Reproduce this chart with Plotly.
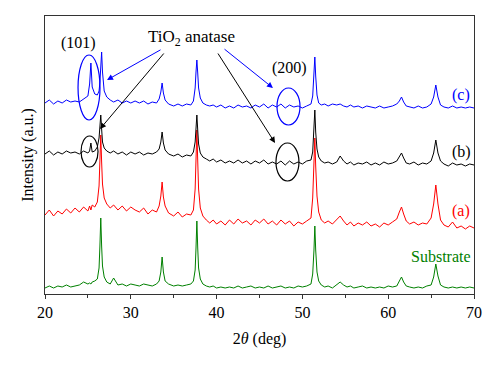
import plotly.graph_objects as go

two_theta = [
    20.0, 20.5, 21.0, 21.5, 22.0, 22.5, 23.0, 23.5, 24.0, 24.5,
    25.0, 25.2, 25.35, 25.5, 25.8, 26.1, 26.3, 26.4, 26.5, 26.6,
    26.7, 26.9, 27.2, 27.6, 28.0, 28.5, 29.0, 29.5, 30.0, 30.5,
    31.0, 31.5, 32.0, 32.5, 33.0, 33.3, 33.5, 33.65, 33.8, 34.0,
    34.4, 35.0, 35.5, 36.0, 36.5, 37.0, 37.3, 37.5, 37.6, 37.7,
    37.8, 37.9, 38.1, 38.4, 38.8, 39.2, 39.6, 40.0, 40.5, 41.0,
    41.5, 42.0, 42.5, 43.0, 43.5, 44.0, 44.5, 45.0, 45.5, 46.0,
    46.5, 47.0, 47.5, 48.0, 48.5, 49.0, 49.5, 50.0, 50.5, 51.0,
    51.2, 51.35, 51.45, 51.55, 51.7, 51.9, 52.2, 52.6, 53.0, 53.5,
    54.0, 54.4, 54.8, 55.2, 55.6, 56.0, 56.5, 57.0, 57.5, 58.0,
    58.5, 59.0, 59.5, 60.0, 60.5, 61.0, 61.3, 61.55, 61.8, 62.1,
    62.5, 63.0, 63.5, 64.0, 64.5, 65.0, 65.3, 65.55, 65.8, 66.1,
    66.5, 67.0, 67.5, 68.0, 68.5, 69.0, 69.5, 70.0,
]

substrate = [
    6, 8, 6, 8, 7, 9, 7, 8, 9, 12,
    10, 11, 10, 12, 13, 15, 26, 48, 76, 48,
    28, 17, 12, 10, 16, 9, 10, 8, 10, 9,
    8, 10, 9, 8, 10, 13, 22, 37, 22, 13,
    10, 8, 9, 8, 9, 10, 13, 24, 46, 73,
    46, 26, 15, 10, 8, 7, 8, 6, 7, 6,
    7, 6, 8, 6, 7, 8, 6, 7, 6, 8,
    6, 7, 8, 6, 7, 6, 8, 7, 8, 10,
    20, 44, 68, 44, 22, 13, 9, 7, 8, 6,
    9, 12, 9, 7, 8, 6, 7, 8, 6, 7,
    6, 7, 6, 8, 7, 8, 13, 17, 12, 8,
    7, 6, 7, 6, 8, 9, 17, 30, 18, 9,
    7, 6, 7, 6, 7, 6, 7, 6,
]

sample_a = [
    79, 84, 78, 83, 80, 85, 81, 86, 82, 87,
    83, 88, 84, 89, 87, 92, 108, 135, 159, 132,
    110, 96, 90, 86, 89, 84, 88, 83, 87, 84,
    82, 86, 80, 84, 82, 88, 98, 112, 97, 88,
    81, 78, 82, 77, 80, 79, 84, 105, 135, 164,
    133, 105, 86, 78, 74, 71, 74, 70, 73, 69,
    74, 70, 75, 71, 73, 69, 74, 71, 75, 70,
    73, 69, 74, 70, 73, 68, 72, 70, 73, 76,
    96, 130, 156, 128, 98, 82, 74, 71, 73, 70,
    74, 78, 73, 69, 72, 68, 71, 69, 72, 68,
    70, 67, 71, 69, 72, 75, 82, 87, 80, 73,
    70, 72, 69, 71, 70, 76, 90, 109, 90, 74,
    69, 67, 72, 66, 68, 65, 68, 66,
]

sample_b = [
    140, 143, 139, 142, 140, 143, 141, 142, 140, 143,
    141, 143, 151, 142, 143, 147, 156, 172, 179, 165,
    152, 146, 143, 141, 143, 140, 142, 139, 142, 140,
    142, 139, 141, 140, 142, 145, 152, 162, 151, 144,
    140, 138, 140, 137, 139, 138, 142, 152, 166, 179,
    164, 150, 141, 137, 135, 133, 135, 132, 134, 131,
    133, 131, 134, 131, 133, 130, 133, 131, 134, 130,
    132, 130, 133, 129, 133, 130, 132, 130, 133, 134,
    142, 165, 184, 162, 145, 137, 133, 131, 132, 130,
    132, 138, 133, 130, 132, 129, 131, 130, 132, 129,
    131, 129, 132, 130, 131, 133, 137, 141, 136, 131,
    130, 132, 129, 131, 130, 133, 141, 154, 141, 133,
    130, 128, 131, 129, 130, 128, 130, 129,
]

sample_c = [
    191, 194, 190, 193, 191, 194, 192, 193, 192, 195,
    198, 210, 231, 207, 200, 199, 203, 212, 226, 242,
    222, 203, 197, 194, 192, 194, 191, 193, 191, 193,
    191, 193, 190, 192, 191, 195, 202, 211, 201, 194,
    190, 188, 190, 188, 190, 189, 193, 206, 222, 234,
    221, 206, 196, 191, 189, 188, 189, 187, 189, 186,
    188, 186, 189, 187, 188, 186, 189, 187, 190, 186,
    189, 187, 190, 186, 189, 187, 188, 186, 188, 190,
    198, 220, 237, 218, 199, 191, 189, 190, 188, 190,
    189, 190, 188, 187, 189, 187, 188, 186, 188, 187,
    186, 188, 186, 187, 188, 190, 193, 197, 192, 188,
    187, 186, 188, 186, 187, 190, 197, 209, 197, 189,
    187, 186, 188, 186, 187, 186, 187, 186,
]

x_ticks = [20, 30, 40, 50, 60, 70]

series = [
    ("Substrate", substrate, "#008000"),
    ("(a)", sample_a, "#FF0000"),
    ("(b)", sample_b, "#000000"),
    ("(c)", sample_c, "#0000FF"),
]

FONT = "Liberation Serif, Times New Roman, serif"

fig = go.Figure()
for name, ys, col in series:
    fig.add_trace(go.Scatter(x=two_theta, y=ys, mode="lines", name=name,
                             line=dict(color=col, width=1), showlegend=False))

# side labels
labels = [("(c)", 68.5, 199, "#0000FF"), ("(b)", 68.5, 142, "#000000"),
          ("(a)", 68.5, 83, "#FF0000"), ("Substrate", 66.15, 38, "#008000")]
for txt, lx, ly, col in labels:
    fig.add_annotation(x=lx, y=ly, xref="x", yref="y", text=txt, showarrow=False,
                       font=dict(family=FONT, size=16, color=col))

fig.add_annotation(x=37.13, y=256, xref="x", yref="y", text="TiO<sub>2</sub> anatase",
                   showarrow=False, font=dict(family=FONT, size=17, color="black"))
fig.add_annotation(x=23.85, y=251, xref="x", yref="y", text="(101)",
                   showarrow=False, font=dict(family=FONT, size=16, color="black"))
fig.add_annotation(x=48.55, y=226, xref="x", yref="y", text="(200)",
                   showarrow=False, font=dict(family=FONT, size=16, color="black"))

arrows = [
    (27.23, 214, 33.64, 245, "#0000FF"),
    (46.57, 206, 40.75, 246, "#0000FF"),
    (26.41, 165, 33.99, 242, "#000000"),
    (46.81, 151, 40.05, 242, "#000000"),
]
for hx, hy, tx, ty, col in arrows:
    fig.add_annotation(x=hx, y=hy, ax=tx, ay=ty, xref="x", yref="y",
                       axref="x", ayref="y", text="", showarrow=True,
                       arrowhead=2, arrowsize=1.2, arrowwidth=1, arrowcolor=col)

ellipses = [
    (23.85, 174, 26.41, 239, "#0000FF"),
    (24.2, 127, 26.18, 158, "#000000"),
    (47.04, 169, 49.72, 206, "#0000FF"),
    (46.92, 113, 49.6, 151, "#000000"),
]
for x0, y0, x1, y1, col in ellipses:
    fig.add_shape(type="circle", xref="x", yref="y", x0=x0, y0=y0, x1=x1, y1=y1,
                  line=dict(color=col, width=1.2), fillcolor="rgba(0,0,0,0)")

# page body adds an 8 px margin, so the figure is sized to fit inside the window
fig.update_layout(
    width=492, height=358,
    margin=dict(l=37, r=26, t=8, b=72),
    paper_bgcolor="white", plot_bgcolor="white",
    font=dict(family=FONT, size=15, color="black"),
    xaxis=dict(range=[20, 70], tickvals=x_ticks, ticks="outside", ticklen=4,
               tickwidth=1, tickcolor="#333", showline=True, linecolor="#333",
               linewidth=1, mirror=True, showgrid=False, zeroline=False,
               automargin=False,
               minor=dict(dtick=5, tick0=20, ticks="outside", ticklen=3, tickcolor="#333"),
               title=dict(text="2<i>θ</i> (deg)", font=dict(family=FONT, size=16), standoff=12),
               tickfont=dict(family=FONT, size=16)),
    yaxis=dict(range=[0, 278], showticklabels=False, ticks="", showline=True,
               linecolor="#333", linewidth=1, mirror=True, showgrid=False, zeroline=False,
               automargin=False,
               title=dict(text="Intensity (a.u.)", font=dict(family=FONT, size=16), standoff=6)),
)

fig.write_html("out.html")
